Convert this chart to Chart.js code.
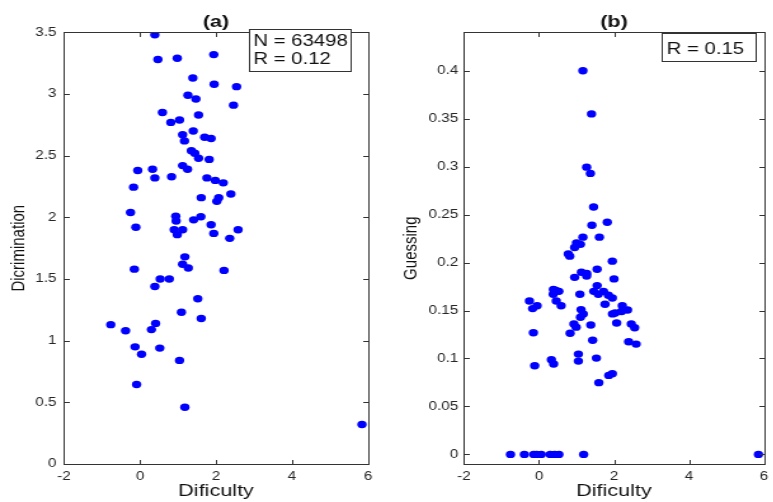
<!DOCTYPE html>
<html>
<head>
<meta charset="utf-8">
<script src="https://cdn.jsdelivr.net/npm/chart.js@4.4.0/dist/chart.umd.min.js"></script>
<style>
html, body { margin: 0; padding: 0; background: #fff; overflow: hidden; width: 773px; height: 502px; }
.panel { position: absolute; top: 0; transform: scaleX(1.27); transform-origin: 0 0; }
</style>
</head>
<body>
<div class="panel" style="left:0"><canvas id="chartA" width="304" height="502"></canvas></div>
<div class="panel" style="left:386px"><canvas id="chartB" width="306" height="502"></canvas></div>
<script>
// tick labels
const xTicks = [-2, 0, 2, 4, 6];
const discTicks = [0, 0.5, 1, 1.5, 2, 2.5, 3, 3.5];
const guessTicks = [0, 0.05, 0.1, 0.15, 0.2, 0.25, 0.3, 0.35, 0.4];

// (a) difficulty vs discrimination
const diffA = [0.39, 0.47, 0.98, 1.94, 1.39, 1.95, 2.54, 1.26, 1.47, 2.46,
  0.59, 0.81, 1.04, 1.54, 1.40, 1.12, 1.17, 1.70, 1.87, 1.35,
  1.44, 1.54, 1.82, -0.06, 0.33, 1.12, 1.25, 0.39, 0.83, 1.76,
  1.98, 2.19, -0.17, 1.61, 2.07, 2.02, 2.39, -0.25, 0.94, 0.95,
  1.41, 1.60, -0.11, 0.90, 1.12, 0.98, 1.87, 1.94, 2.58, 2.36,
  1.18, 1.12, 1.27, -0.15, 2.21, 0.53, 0.77, 0.39, 1.52, 1.09,
  1.61, -0.77, -0.38, 0.41, 0.30, -0.13, 0.04, 0.52, 1.04, -0.09,
  1.18, 5.84];
const discA = [3.48, 3.28, 3.29, 3.32, 3.13, 3.08, 3.06, 2.99, 2.96, 2.91,
  2.85, 2.77, 2.79, 2.83, 2.70, 2.67, 2.62, 2.65, 2.64, 2.54,
  2.52, 2.48, 2.47, 2.38, 2.39, 2.42, 2.39, 2.32, 2.33, 2.32,
  2.30, 2.28, 2.245, 2.16, 2.16, 2.13, 2.19, 2.04, 2.01, 1.97,
  1.98, 2.005, 1.92, 1.90, 1.90, 1.86, 1.94, 1.87, 1.90, 1.83,
  1.68, 1.62, 1.59, 1.58, 1.57, 1.50, 1.50, 1.44, 1.34, 1.23,
  1.18, 1.13, 1.08, 1.14, 1.09, 0.95, 0.89, 0.94, 0.84, 0.645,
  0.46, 0.32];

// (b) difficulty vs guessing
const diffB = [1.17, 1.40, 1.27, 1.37, 1.455, 1.41, 1.82, 1.17, 1.61, 1.00,
  1.105, 0.95, 0.78, 0.82, 1.955, 1.55, 2.00, 0.95, 1.13, 1.27,
  1.27, 1.55, 1.46, 1.58, 1.72, 1.85, 1.955, 1.09, 0.385, 0.45,
  0.53, 0.38, 0.46, 0.59, -0.255, -0.05, -0.17, 1.12, 1.18, 1.105,
  1.76, 1.96, 2.03, 2.22, 2.36, 2.20, 2.07, 2.46, 2.55, 0.93,
  0.99, 1.38, -0.15, 0.83, 1.43, 2.39, 2.59, 0.33, 0.39, -0.115,
  1.05, 1.05, 1.53, 1.86, 1.955, 1.595,
  -0.76, -0.39, -0.14, -0.06, 0.06, 0.30, 0.42, 0.53, 1.19, 5.85];
const guessB = [0.400, 0.355, 0.2995, 0.293, 0.258, 0.239, 0.242, 0.2265, 0.2265, 0.2206,
  0.219, 0.2158, 0.209, 0.2067, 0.2015, 0.193, 0.183, 0.1846, 0.190, 0.1887,
  0.186, 0.176, 0.170, 0.167, 0.170, 0.166, 0.163, 0.167, 0.172, 0.171,
  0.170, 0.167, 0.160, 0.155, 0.160, 0.155, 0.152, 0.151, 0.1465, 0.143,
  0.1565, 0.1465, 0.1475, 0.155, 0.1506, 0.149, 0.137, 0.136, 0.132, 0.136,
  0.1327, 0.135, 0.1268, 0.1264, 0.119, 0.1174, 0.115, 0.0987, 0.0942, 0.0925,
  0.1046, 0.0973, 0.1004, 0.0824, 0.0842, 0.0748,
  0, 0, 0, 0, 0, 0, 0, 0, 0, 0];

const FONT = '"Liberation Sans", Arial, Helvetica, sans-serif';
const TXT = '#262626';
const AXIS = '#333333';

// matlab style box with inward ticks, then the little text box on top
const framePlugin = {
  id: 'frame',
  afterDraw(chart, args, opts) {
    const ctx = chart.ctx;
    const a = chart.chartArea;
    const L = Math.round(a.left), R = Math.round(a.right);
    const T = Math.round(a.top), B = Math.round(a.bottom);
    ctx.save();
    ctx.fillStyle = AXIS;
    ctx.fillRect(L, T, R - L + 1, 1);
    ctx.fillRect(L, B, R - L + 1, 1);
    ctx.fillRect(L, T, 1, B - T + 1);
    ctx.fillRect(R, T, 1, B - T + 1);
    xTicks.forEach(v => {
      const px = Math.round(chart.scales.x.getPixelForValue(v));
      ctx.fillRect(px, B - 4, 1, 4);
      ctx.fillRect(px, T + 1, 1, 4);
    });
    opts.yTicks.forEach(v => {
      const py = Math.round(chart.scales.y.getPixelForValue(v));
      ctx.fillRect(L + 1, py, 4, 1);
      ctx.fillRect(R - 4, py, 4, 1);
    });

    const b = opts.box;
    ctx.fillStyle = '#fff';
    ctx.fillRect(b.x, b.y, b.w, b.h);
    ctx.fillStyle = '#333';
    ctx.fillRect(b.x, b.y, b.w, 1);
    ctx.fillRect(b.x, b.y + b.h, b.w + 1, 1);
    ctx.fillRect(b.x, b.y, 1, b.h);
    ctx.fillRect(b.x + b.w, b.y, 1, b.h);
    ctx.fillStyle = '#111';
    ctx.font = '16px ' + FONT;
    ctx.textBaseline = 'alphabetic';
    b.lines.forEach((s, i) => ctx.fillText(s, b.tx, b.baselines[i]));
    ctx.restore();
  }
};

function makeChart(id, xv, yv, cfg) {
  const pts = xv.map((v, i) => ({x: v, y: yv[i]}));
  return new Chart(document.getElementById(id), {
    type: 'scatter',
    data: { datasets: [{ data: pts, backgroundColor: '#0000ff', borderColor: '#0000ff',
      borderWidth: 0, pointRadius: 3.7, pointHoverRadius: 3.7 }] },
    options: {
      responsive: false,
      animation: false,
      events: [],
      layout: { padding: { left: 0, right: cfg.padRight, top: 0, bottom: 0 } },
      plugins: {
        legend: { display: false },
        tooltip: { enabled: false },
        title: { display: true, text: cfg.title, fullSize: false, color: '#111',
          font: { family: FONT, size: 17, weight: 'bold' }, padding: { top: 12, bottom: 0 } },
        frame: { box: cfg.box, yTicks: cfg.yTicks }
      },
      scales: {
        x: {
          type: 'linear', min: -2, max: 6,
          afterBuildTicks: s => { s.ticks = xTicks.map(v => ({value: v})); },
          afterFit: s => { s.height = 38; },
          grid: { display: true, drawOnChartArea: false, drawTicks: false, color: 'rgba(0,0,0,0)' },
          border: { display: true, color: AXIS, width: 1 },
          ticks: { padding: 5, color: TXT, font: { family: FONT, size: 12 }, maxRotation: 0, autoSkip: false },
          title: { display: true, text: 'Dificulty', color: '#111', font: { family: FONT, size: 17 }, padding: 0 }
        },
        y: {
          type: 'linear', min: cfg.yMin, max: cfg.yMax,
          afterBuildTicks: s => { s.ticks = cfg.yTicks.map(v => ({value: v})); },
          afterFit: s => { s.width = cfg.yWidth; },
          grid: { display: true, drawOnChartArea: false, drawTicks: false, color: 'rgba(0,0,0,0)' },
          border: { display: true, color: AXIS, width: 1 },
          ticks: { padding: cfg.yPad, color: TXT, font: { family: FONT, size: 12 }, autoSkip: false,
            callback: v => String(+(+v).toFixed(2)) },
          title: { display: true, text: cfg.yTitle, color: '#111', font: { family: FONT, size: 15 },
            padding: { top: cfg.yTitlePad, bottom: 0 } }
        }
      }
    },
    plugins: [framePlugin]
  });
}

makeChart('chartA', diffA, discA, {
  title: '(a)', yTitle: 'Dicrimination', yTicks: discTicks, yMin: 0, yMax: 3.5,
  yWidth: 50.4, yPad: 6, yTitlePad: 5.5, padRight: 14.2,
  box: { x: 196, y: 29, w: 80, h: 42, tx: 199.5, lines: ['N = 63498', 'R = 0.12'], baselines: [46, 64] }
});

makeChart('chartB', diffB, guessB, {
  title: '(b)', yTitle: 'Guessing', yTicks: guessTicks, yMin: -0.01, yMax: 0.44,
  yWidth: 61.4, yPad: 4.5, yTitlePad: 10.4, padRight: 5.2,
  box: { x: 217, y: 33, w: 74, h: 28, tx: 221, lines: ['R = 0.15'], baselines: [53.5] }
});
</script>
</body>
</html>
